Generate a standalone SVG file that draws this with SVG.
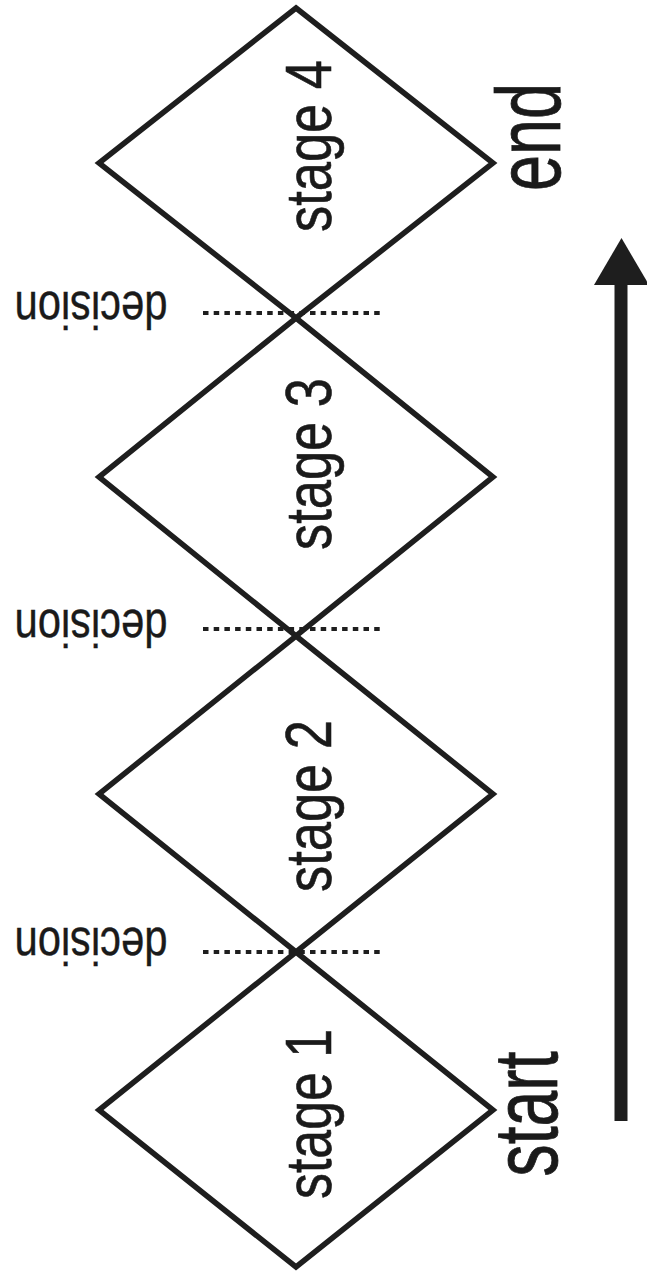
<svg xmlns="http://www.w3.org/2000/svg" width="647" height="1275" viewBox="0 0 647 1275">
<style>
.dia{fill:none;stroke:#1e1e1e;stroke-width:5.5;stroke-linejoin:miter}
.stg{font-family:"Liberation Sans",Arial,sans-serif;font-size:64px;fill:#1a1a1a;stroke:#1a1a1a;stroke-width:0.6;text-anchor:middle}
.big{font-family:"Liberation Sans",Arial,sans-serif;font-size:90px;fill:#1a1a1a;stroke:#1a1a1a;stroke-width:0.8;text-anchor:middle}
.dec{font-family:"Liberation Sans",Arial,sans-serif;font-size:52px;fill:#1a1a1a;stroke:#1a1a1a;stroke-width:0.4;text-anchor:middle}
.dot{stroke:#1e1e1e;stroke-width:4;stroke-dasharray:5.5 5.2;fill:none}
</style>
<rect width="647" height="1275" fill="#ffffff"/>
<g id="stage4">
<polygon class="dia" points="296,8 493,163 296,318 99,163"/>
<text class="stg" x="331" y="146" transform="rotate(-90 331 146)" dx="0" textLength="172" lengthAdjust="spacingAndGlyphs">stage 4</text>
</g>
<g id="stage3">
<polygon class="dia" points="296,318 493,477 296,636 99,477"/>
<text class="stg" x="331" y="464" transform="rotate(-90 331 464)" textLength="172" lengthAdjust="spacingAndGlyphs">stage 3</text>
</g>
<g id="stage2">
<polygon class="dia" points="296,636 493,794 296,952 99,794"/>
<text class="stg" x="331" y="806" transform="rotate(-90 331 806)" textLength="172" lengthAdjust="spacingAndGlyphs">stage 2</text>
</g>
<g id="stage1">
<polygon class="dia" points="296,952 493,1110 296,1267 99,1110"/>
<text class="stg" x="331" y="1114" transform="rotate(-90 331 1114)" textLength="170" lengthAdjust="spacingAndGlyphs">stage 1</text>
</g>
<g id="end">
<text class="big" x="560" y="137" transform="rotate(-90 560 137)" textLength="108" lengthAdjust="spacingAndGlyphs">end</text>
</g>
<g id="start">
<text class="big" x="557" y="1114" transform="rotate(-90 557 1114)" textLength="125" lengthAdjust="spacingAndGlyphs">start</text>
</g>
<g id="decision1">
<text class="dec" x="91" y="292" transform="rotate(180 91 292)" textLength="153" lengthAdjust="spacingAndGlyphs">decision</text>
</g>
<g id="decision2">
<text class="dec" x="91" y="610" transform="rotate(180 91 610)" textLength="153" lengthAdjust="spacingAndGlyphs">decision</text>
</g>
<g id="decision3">
<text class="dec" x="91" y="928" transform="rotate(180 91 928)" textLength="153" lengthAdjust="spacingAndGlyphs">decision</text>
</g>
<g id="connectors">
<line class="dot" x1="203" y1="313" x2="384" y2="313"/>
<line class="dot" x1="203" y1="629" x2="384" y2="629"/>
<line class="dot" x1="203" y1="952" x2="384" y2="952"/>
<rect x="614.5" y="283" width="13" height="838" fill="#1e1e1e"/>
<polygon points="621.5,238 649,285 594,285" fill="#1e1e1e"/>
</g>
</svg>
